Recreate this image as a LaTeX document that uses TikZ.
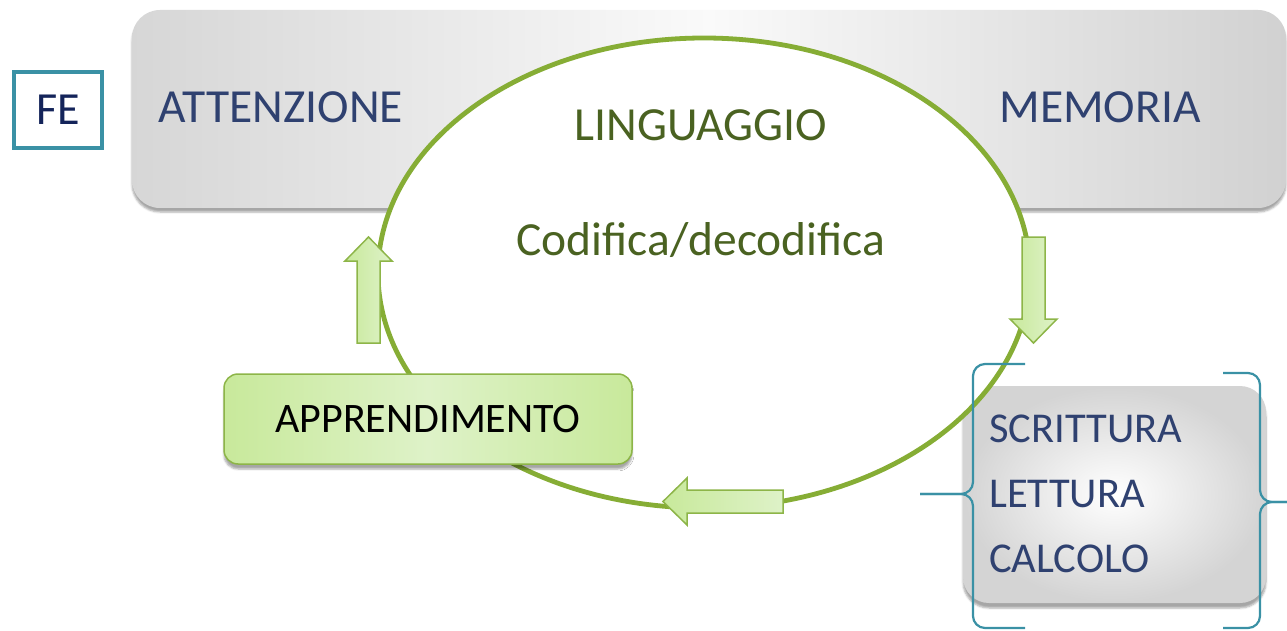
\documentclass[tikz,border=0pt]{standalone}
\usepackage{fontspec}
\setmainfont{Carlito}
\usetikzlibrary{positioning,shapes.geometric,shadows.blur}
\definecolor{navy}{HTML}{2F4170}
\definecolor{darknavy}{HTML}{14245A}
\definecolor{teal}{HTML}{3A91A5}
\definecolor{olive}{HTML}{4A6221}
\definecolor{cyclegreen}{HTML}{86AD35}
\definecolor{boxline}{HTML}{8DB548}
\definecolor{boxfill}{HTML}{C8E99B}
\definecolor{boxlight}{HTML}{DEF2C8}
\tikzset{
x=1pt, y=-1pt, % one unit is one pixel of the original, y runs downwards
bigtext/.style={font=\fontsize{47.5}{52}\selectfont, inner sep=0pt}, % texts in the grey bar and in the cycle
listtext/.style={font=\fontsize{42.5}{46}\selectfont, text=navy, inner sep=0pt, text height=27pt, text depth=0pt}, % the three skills
graybar/.style={rounded corners=28pt, left color=black!16, right color=black!18, middle color=black!2, blur shadow={shadow xshift=0pt, shadow yshift=-4pt, shadow opacity=35}},
skillbox/.style={rounded corners=26pt, inner color=white, outer color=black!17, blur shadow={shadow xshift=0pt, shadow yshift=-5pt, shadow opacity=35}},
fesquare/.style={draw=teal, line width=4pt, fill=white, minimum width=88pt, minimum height=76pt, font=\fontsize{46}{50}\selectfont, text=darknavy},
cycle/.style={ellipse, draw=cyclegreen, line width=4.8pt, fill=white, minimum width=652pt, minimum height=470pt, inner sep=0pt},
learnbox/.style={rounded corners=14pt, draw=boxline, line width=1.5pt, left color=boxfill, right color=boxfill, middle color=boxlight, minimum width=408pt, minimum height=90pt, font=\fontsize{42}{46}\selectfont, blur shadow={shadow xshift=0pt, shadow yshift=-5pt, shadow opacity=35}},
arrowbody/.style={draw=boxline, line width=1.5pt, left color=boxfill, right color=boxlight},
pics/blockarrow/.style={code={ % drawn from the tail (origin) towards +x, #1 is the length
  \path[arrowbody] (0,-11.5) -- (#1-24,-11.5) -- (#1-24,-23.5) -- (#1,0)
    -- (#1-24,23.5) -- (#1-24,11.5) -- (0,11.5) -- cycle;}},
brace/.style={draw=teal, line width=2.2pt, rounded corners=12pt},
}
\begin{document}
\begin{tikzpicture}
\useasboundingbox (0,0) rectangle (1287,631);
\node[graybar, minimum width=1154pt, minimum height=198pt] (bar) at (709,109) {};
\node[skillbox, minimum width=303pt, minimum height=217pt] (skills) at (1114.5,494.5) {};
\node[fesquare] (fe) at (58,110) {FE};
\node[bigtext, text=navy, anchor=base] (attenzione) at (281,123) {ATTENZIONE};
\node[bigtext, text=navy, anchor=base] (memoria) at (1100,123) {MEMORIA};
\node[cycle] (lang) at (704,273) {};
\node[bigtext, text=olive, anchor=base] (linguaggio) at (701,141) {LINGUAGGIO};
\node[bigtext, text=olive, anchor=base] (codifica) at (701,255) {Codifica/decodifica};
\pic[rotate=90] (up) at (368.5,343) {blockarrow=106};
\pic[rotate=-90] (down) at (1033.5,237) {blockarrow=106};
\pic[rotate=180] (left) at (783,501.5) {blockarrow=120};
\node[learnbox] (learn) at (428,419) {APPRENDIMENTO};
\draw[brace] (1025,364) -- (973,364) -- (973,494) -- (920,494);
\draw[brace] (920,494) -- (973,494) -- (973,628) -- (1025,628);
\draw[brace] (1223,373) -- (1260,373) -- (1260,502) -- (1287,502);
\draw[brace] (1287,502) -- (1260,502) -- (1260,628) -- (1223,628);
\node[listtext, anchor=base west] (scrittura) at (989,442) {SCRITTURA};
\node[listtext, below=38pt of scrittura.south west, anchor=north west] (lettura) {LETTURA};
\node[listtext, below=38pt of lettura.south west, anchor=north west] (calcolo) {CALCOLO};
\end{tikzpicture}
\end{document}
